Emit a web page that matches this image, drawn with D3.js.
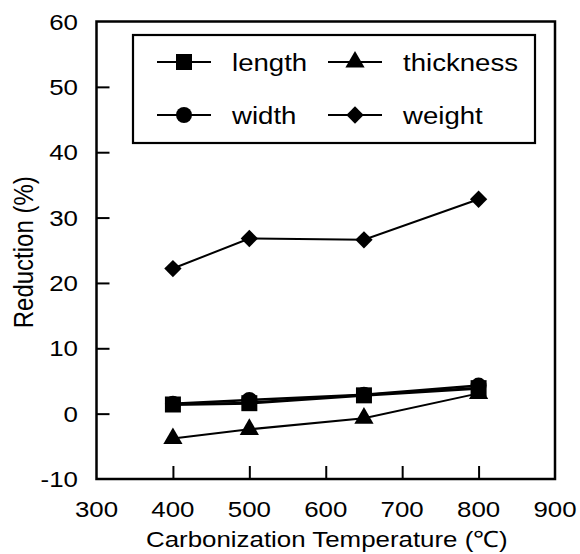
<!DOCTYPE html>
<html><head><meta charset="utf-8">
<script src="https://cdn.jsdelivr.net/npm/d3@7"></script>
<style>
body{margin:0;background:#fff;}
text{font-family:"Liberation Sans",Arial,Helvetica,sans-serif;fill:#000;}
</style></head>
<body><svg id="c" width="580" height="554"></svg>
<script>
const temperatures = [400, 500, 650, 800];
const lengthValues = [1.4, 1.6, 2.8, 3.9];
const widthValues = [1.5, 2.1, 2.9, 4.3];
const thicknessValues = [-3.8, -2.4, -0.7, 3.1];
const weightValues = [22.2, 26.8, 26.6, 32.8];
const seriesNames = ["length", "width", "thickness", "weight"];
const xTicks = [300, 400, 500, 600, 700, 800, 900];
const yTicks = [-10, 0, 10, 20, 30, 40, 50, 60];
const xTitle = "Carbonization Temperature (\u2103)";
const yTitle = "Reduction (%)";

const series = [
  {name: seriesNames[0], values: lengthValues, sym: d3.symbolSquare, size: 256, rot: 0, lw: 3},
  {name: seriesNames[1], values: widthValues, sym: d3.symbolCircle, size: 201, rot: 0, lw: 2.5},
  {name: seriesNames[2], values: thicknessValues, sym: d3.symbolTriangle, size: 160, rot: 0, lw: 2},
  {name: seriesNames[3], values: weightValues, sym: d3.symbolSquare, size: 150, rot: 45, lw: 2}
];

const SX = 1.15;
const svg = d3.select("#c");
const L = 96.5, R = 555, T = 21.5, B = 479;
const x = d3.scaleLinear().domain([300, 900]).range([L, R]);
const y = d3.scaleLinear().domain([-10, 60]).range([B, T]);

function stext(g, tx, ty, str, size, anchor) {
  const gg = g.append("g").attr("transform", `translate(${tx},${ty}) scale(${SX},1)`);
  gg.append("text").attr("text-anchor", anchor).style("font-size", size + "px").text(str);
  return gg;
}

// frame
svg.append("rect").attr("x", L).attr("y", T).attr("width", R - L).attr("height", B - T)
  .attr("fill", "none").attr("stroke", "#000").attr("stroke-width", 2.5);

// y axis ticks (inward)
const yAxis = d3.axisRight(y).tickValues(yTicks.filter(v => v > -10 && v < 60)).tickSize(13).tickFormat("");
const gy = svg.append("g").attr("transform", `translate(${L},0)`).call(yAxis);
gy.select(".domain").remove();
gy.selectAll("line").attr("stroke", "#000").attr("stroke-width", 2);

// x axis ticks (inward)
const xAxis = d3.axisTop(x).tickValues(xTicks.filter(v => v > 300 && v < 900)).tickSize(13).tickFormat("");
const gx = svg.append("g").attr("transform", `translate(0,${B})`).call(xAxis);
gx.select(".domain").remove();
gx.selectAll("line").attr("stroke", "#000").attr("stroke-width", 2);

// tick labels
yTicks.forEach(v => stext(svg, 78, y(v) + 8, String(v), 22.5, "end"));
xTicks.forEach(v => stext(svg, x(v), 517, String(v), 22.5, "middle"));

// titles
stext(svg, (L + R) / 2 + 1, 547, xTitle, 22.5, "middle");
svg.append("g").attr("transform", `translate(33,${(T + B) / 2 + 2}) rotate(-90) scale(1,${SX})`)
  .append("text").attr("text-anchor", "middle").style("font-size", "24px").text(yTitle);

// series
const line = d3.line().x((d, i) => x(temperatures[i])).y(d => y(d));
series.forEach(s => {
  svg.append("path").datum(s.values).attr("d", line).attr("fill", "none")
    .attr("stroke", "#000").attr("stroke-width", s.lw);
});
series.forEach(s => {
  svg.append("g").selectAll("path").data(s.values).join("path")
    .attr("transform", (d, i) => `translate(${x(temperatures[i])},${y(d)}) rotate(${s.rot})`)
    .attr("d", d3.symbol().type(s.sym).size(s.size)).attr("fill", "#000");
});

// legend
const lg = svg.append("g");
lg.append("rect").attr("x", 133).attr("y", 35).attr("width", 402).attr("height", 108)
  .attr("fill", "#fff").attr("stroke", "#000").attr("stroke-width", 2.2);
const legendPos = [
  {lx: 157, cy: 62}, {lx: 157, cy: 115}, {lx: 328, cy: 62}, {lx: 328, cy: 115}
];
series.forEach((s, i) => {
  const p = legendPos[i];
  lg.append("line").attr("x1", p.lx).attr("x2", p.lx + 54).attr("y1", p.cy).attr("y2", p.cy)
    .attr("stroke", "#000").attr("stroke-width", 2);
  lg.append("path").attr("transform", `translate(${p.lx + 27},${p.cy}) rotate(${s.rot})`)
    .attr("d", d3.symbol().type(s.sym).size(s.size)).attr("fill", "#000");
  stext(lg, p.lx + 75, p.cy + 8.5, s.name, 24, "start");
});
</script></body></html>
